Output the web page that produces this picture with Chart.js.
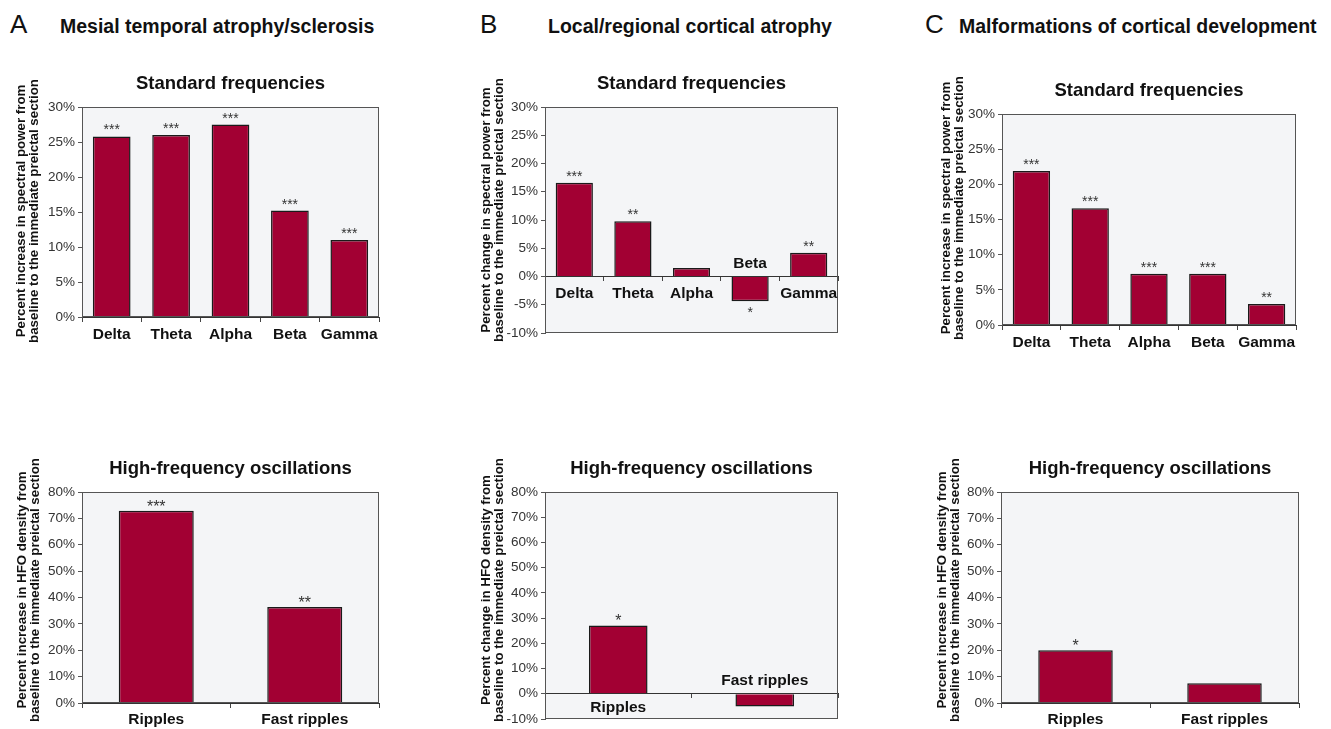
<!DOCTYPE html>
<html>
<head>
<meta charset="utf-8">
<script src="https://cdn.jsdelivr.net/npm/chart.js@4.4.1/dist/chart.umd.min.js"></script>
<style>
  body { margin: 0; background: #fff; width: 1331px; height: 729px; position: relative; overflow: hidden;
         font-family: "Liberation Sans", Arial, sans-serif; color: #111; }
  .letter { position: absolute; font-size: 26px; line-height: 26px; }
  .head { position: absolute; font-size: 19.5px; line-height: 19.5px; font-weight: bold; white-space: nowrap; }
  canvas { position: absolute; }
</style>
</head>
<body>
<div class="letter" style="left:10px;top:11px">A</div>
<div class="head" style="left:60px;top:17px">Mesial temporal atrophy/sclerosis</div>
<div class="letter" style="left:480px;top:11px">B</div>
<div class="head" style="left:548px;top:17px">Local/regional cortical atrophy</div>
<div class="letter" style="left:925px;top:11px">C</div>
<div class="head" style="left:959px;top:17px">Malformations of cortical development</div>

<canvas id="aTop" width="373" height="290" style="left:16px;top:57px"></canvas>
<canvas id="bTop" width="369" height="306" style="left:479px;top:57px"></canvas>
<canvas id="cTop" width="370" height="291" style="left:936px;top:64px"></canvas>
<canvas id="aBot" width="373" height="291" style="left:16px;top:442px"></canvas>
<canvas id="bBot" width="369" height="307" style="left:479px;top:442px"></canvas>
<canvas id="cBot" width="374" height="291" style="left:935px;top:442px"></canvas>

<script>
// categories
const bandNames = ['Delta', 'Theta', 'Alpha', 'Beta', 'Gamma'];
const hfoNames = ['Ripples', 'Fast ripples'];

// standard frequency bands (% change)
const mtsBand = [25.8, 26.0, 27.5, 15.2, 11.0];
const mtsBandSig = ['***', '***', '***', '***', '***'];
const lcaBand = [16.6, 9.8, 1.5, -4.4, 4.2];
const lcaBandSig = ['***', '**', '', '*', '**'];
const mcdBand = [21.9, 16.6, 7.3, 7.3, 3.0];
const mcdBandSig = ['***', '***', '***', '***', '**'];

// HFO density (% change)
const mtsHfo = [72.9, 36.4];
const mtsHfoSig = ['***', '**'];
const lcaHfo = [27.1, -5.0];
const lcaHfoSig = ['*', ''];
const mcdHfo = [20.0, 7.5];
const mcdHfoSig = ['*', ''];

// y axis ranges [min, max, step]
const bandAxis = [0, 30, 5];
const bandAxisLca = [-10, 30, 5];
const hfoAxis = [0, 80, 10];
const hfoAxisLca = [-10, 80, 10];

const powerIncrease = ['Percent increase in spectral power from', 'baseline to the immediate preictal section'];
const powerChange = ['Percent change in spectral power from', 'baseline to the immediate preictal section'];
const hfoIncrease = ['Percent increase in HFO density from', 'baseline to the immediate preictal section'];
const hfoChange = ['Percent change in HFO density from', 'baseline to the immediate preictal section'];

const FONT = '"Liberation Sans", Arial, sans-serif';

const decor = {
  id: 'decor',
  beforeDraw(chart) {
    const {ctx, chartArea: a} = chart;
    ctx.save();
    ctx.fillStyle = '#f4f5f7';
    ctx.fillRect(a.left, a.top, a.right - a.left, a.bottom - a.top);
    ctx.restore();
  },
  afterDatasetsDraw(chart, args, opts) {
    const {ctx, chartArea: a} = chart;
    const ds = chart.data.datasets[0];
    const meta = chart.getDatasetMeta(0);
    ctx.save();
    ctx.strokeStyle = '#555';
    ctx.lineWidth = 1;
    ctx.strokeRect(a.left + 0.5, a.top + 0.5, a.right - a.left - 1, a.bottom - a.top - 1);

    ctx.textAlign = 'center';
    ctx.textBaseline = 'alphabetic';
    ctx.fillStyle = '#111';
    ctx.font = 'bold 18.5px ' + FONT;
    ctx.fillText(opts.title, (a.left + a.right) / 2, a.top - 18);

    // rotated two-line y title
    ctx.font = 'bold 13.3px ' + FONT;
    ctx.textBaseline = 'middle';
    opts.yTitle.forEach((line, k) => {
      ctx.save();
      ctx.translate(a.left - opts.yTitleGap + k * 13.5, a.top + opts.yTitleMid);
      ctx.rotate(-Math.PI / 2);
      ctx.fillText(line, 0, 0);
      ctx.restore();
    });

    ctx.textBaseline = 'alphabetic';
    meta.data.forEach((bar, i) => {
      const up = ds.data[i] >= 0;
      ctx.fillStyle = '#111';
      ctx.font = 'bold 15.5px ' + FONT;
      ctx.fillText(chart.data.labels[i], bar.x, up ? bar.base + opts.labelDrop : bar.base - 9);
      const s = opts.sig[i];
      if (s) {
        ctx.fillStyle = '#333';
        ctx.font = opts.starSize + 'px ' + FONT;
        ctx.fillText(s, bar.x, up ? bar.y - opts.starLift : bar.y + opts.starSize + 2);
      }
    });
    ctx.restore();
  }
};

function drawChart(id, names, values, sig, axis, yTitle, title, look) {
  return new Chart(document.getElementById(id), {
    type: 'bar',
    data: {
      labels: names,
      datasets: [{
        data: values,
        backgroundColor: '#a20033',
        borderColor: '#1a1a1a',
        borderWidth: 1.5,
        barPercentage: look.barPct,
        categoryPercentage: 1
      }]
    },
    plugins: [decor],
    options: {
      responsive: false,
      animation: false,
      layout: {padding: {top: 50, right: 10, bottom: 30, left: 0}},
      plugins: {
        legend: {display: false},
        tooltip: {enabled: false},
        decor: {
          title: title, sig: sig, yTitle: yTitle,
          yTitleGap: look.gap, yTitleMid: look.mid,
          starSize: look.starSize, starLift: look.starLift, labelDrop: look.drop
        }
      },
      scales: {
        x: {
          position: {y: 0},
          offset: true,
          grid: {offset: true, drawOnChartArea: false, drawTicks: true, tickLength: 4, color: '#444'},
          border: {display: true, color: '#333', width: 1},
          ticks: {display: false}
        },
        y: {
          min: axis[0],
          max: axis[1],
          afterFit: (scale) => { scale.width = 66; },
          grid: {drawOnChartArea: false, drawTicks: true, tickLength: 4, color: '#555'},
          border: {display: true, color: '#555', width: 1},
          ticks: {
            stepSize: axis[2],
            padding: 3,
            color: '#333',
            font: {family: FONT, size: 13.5},
            callback: (v) => v + '%'
          }
        }
      }
    }
  });
}

drawChart('aTop', bandNames, mtsBand, mtsBandSig, bandAxis, powerIncrease, 'Standard frequencies',
  {barPct: 0.635, gap: 61, mid: 104, starSize: 14, starLift: 2, drop: 22});
drawChart('bTop', bandNames, lcaBand, lcaBandSig, bandAxisLca, powerChange, 'Standard frequencies',
  {barPct: 0.635, gap: 59, mid: 103, starSize: 14, starLift: 2, drop: 22});
drawChart('cTop', bandNames, mcdBand, mcdBandSig, bandAxis, powerIncrease, 'Standard frequencies',
  {barPct: 0.635, gap: 56, mid: 94, starSize: 14, starLift: 2, drop: 22});
drawChart('aBot', hfoNames, mtsHfo, mtsHfoSig, hfoAxis, hfoIncrease, 'High-frequency oscillations',
  {barPct: 0.505, gap: 60, mid: 98, starSize: 16, starLift: -1, drop: 21});
drawChart('bBot', hfoNames, lcaHfo, lcaHfoSig, hfoAxisLca, hfoChange, 'High-frequency oscillations',
  {barPct: 0.4, gap: 59, mid: 98, starSize: 16, starLift: -1, drop: 19});
drawChart('cBot', hfoNames, mcdHfo, mcdHfoSig, hfoAxis, hfoIncrease, 'High-frequency oscillations',
  {barPct: 0.5, gap: 59, mid: 98, starSize: 16, starLift: -1, drop: 21});
</script>
</body>
</html>
